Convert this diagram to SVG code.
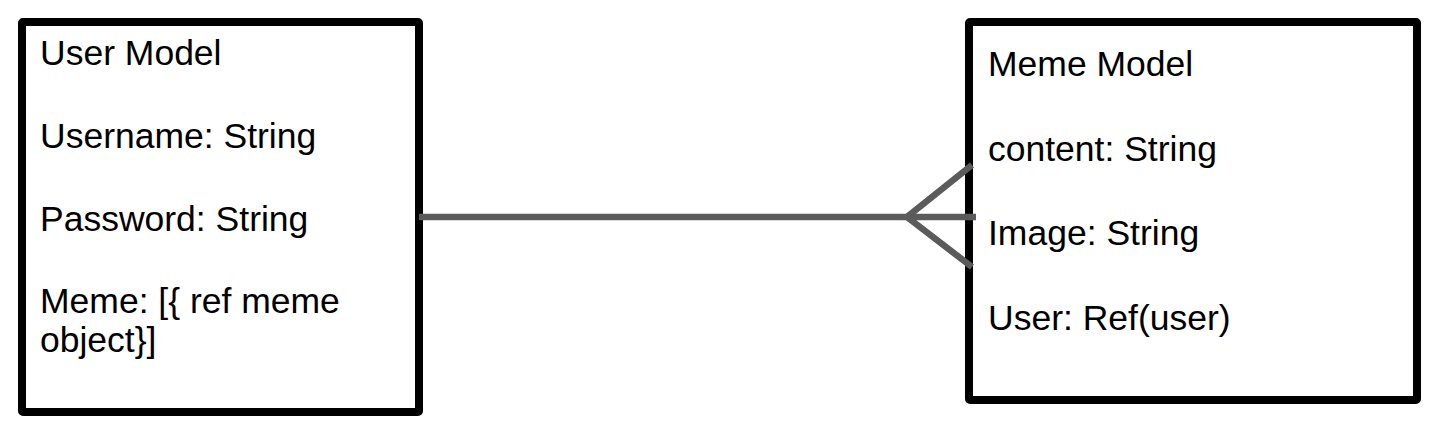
<svg xmlns="http://www.w3.org/2000/svg" width="1452" height="440" viewBox="0 0 1452 440">
<style>
.box{fill:#fff;stroke:#000;stroke-width:8;stroke-linejoin:round}
.t{font-family:"Liberation Sans",Arial,sans-serif;font-size:35.5px;fill:#000}
.c{fill:none;stroke:#5b5b5b;stroke-width:6.5;stroke-linecap:butt}
</style>
<rect width="1452" height="440" fill="#fff"/>
<g id="user-model">
<rect class="box" x="22" y="22" width="397" height="390" rx="1"/>
<text class="t" x="40" y="65">User Model</text>
<text class="t" x="40" y="148">Username: String</text>
<text class="t" x="40" y="230.5">Password: String</text>
<text class="t" x="40" y="313">Meme: [{ ref meme</text>
<text class="t" x="40" y="352">object}]</text>
</g>
<g id="meme-model">
<rect class="box" x="969" y="22" width="448" height="378" rx="1"/>
<text class="t" x="988" y="76">Meme Model</text>
<text class="t" x="988" y="160.5">content: String</text>
<text class="t" x="988" y="245">Image: String</text>
<text class="t" x="988" y="329.5">User: Ref(user)</text>
</g>
<g id="connectors">
<line class="c" x1="419" y1="217" x2="976" y2="217"/>
<polyline class="c" points="972,165 907,217 972,267"/>
</g>
</svg>
